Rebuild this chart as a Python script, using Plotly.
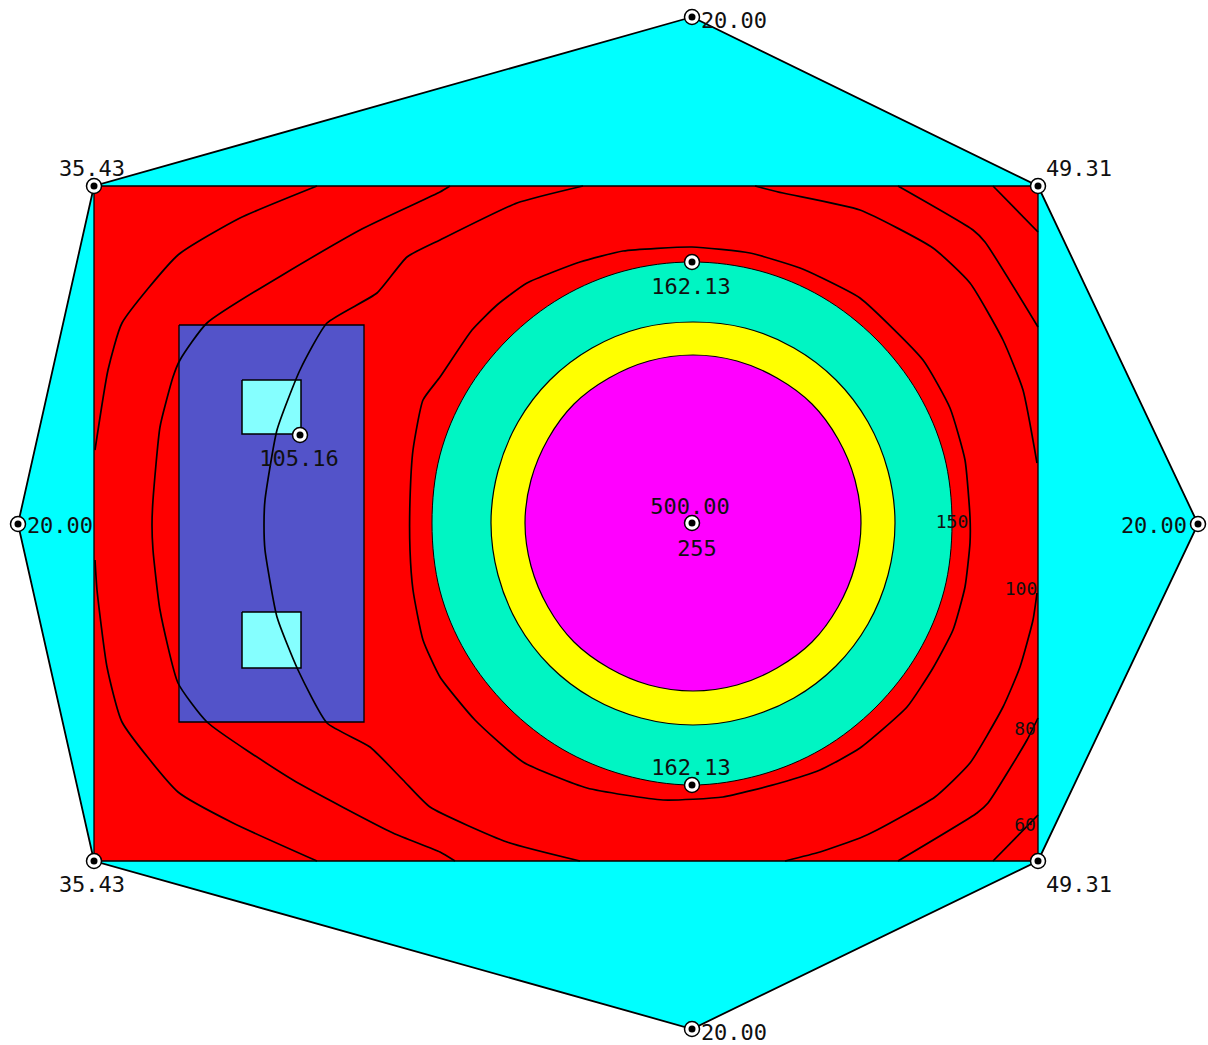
import plotly.graph_objects as go

# Outer octagon
outer_x = [692, 1038, 1198, 1038, 692, 94, 18, 94, 692]
outer_y = [17, 186, 524, 861, 1029, 861, 524, 186, 17]
# Inner rectangle
rect_x = [94, 1038, 1038, 94, 94]
rect_y = [186, 186, 861, 861, 186]
# Column block
block_x = [179, 364, 364, 179, 179]
block_y = [325, 325, 722, 722, 325]
pad1_x = [242, 301, 301, 242, 242]
pad1_y = [380, 380, 434, 434, 380]
pad2_x = [242, 301, 301, 242, 242]
pad2_y = [612, 612, 668, 668, 612]
# Pressure zones
teal_x = [952, 944, 918, 876, 822, 760, 692, 624, 562, 508, 466, 440, 432, 440, 466, 508, 562, 624, 692, 760, 822, 876, 918, 944, 952]
teal_y = [523, 455, 393, 339, 297, 271, 262, 271, 297, 339, 393, 455, 523, 591, 653, 707, 749, 775, 785, 775, 749, 707, 653, 591, 523]
yellow_x = [895, 888, 868, 836, 794, 745, 693, 641, 592, 550, 518, 498, 491, 498, 518, 550, 592, 641, 693, 745, 794, 836, 868, 888, 895]
yellow_y = [523, 471, 422, 380, 348, 328, 322, 328, 348, 380, 422, 471, 523, 575, 624, 666, 698, 718, 725, 718, 698, 666, 624, 575, 523]
magenta_x = [861, 855, 838, 812, 777, 737, 693, 649, 609, 574, 548, 531, 525, 531, 548, 574, 609, 649, 693, 737, 777, 812, 838, 855, 861]
magenta_y = [523, 480, 439, 404, 378, 361, 355, 361, 378, 404, 439, 480, 523, 566, 607, 642, 668, 685, 691, 685, 668, 642, 607, 566, 523]

# Contour lines
c60_top_left_x = [317, 240, 178, 122, 108, 95]
c60_top_left_y = [186, 218, 255, 323, 370, 450]
c60_bot_left_x = [95, 97, 107, 122, 178, 233, 317]
c60_bot_left_y = [560, 590, 667, 722, 792, 823, 861]
c60_top_right_x = [993, 1038]
c60_top_right_y = [186, 232]
c60_bot_right_x = [1038, 993]
c60_bot_right_y = [815, 861]

c80_left_x = [450, 440, 360, 207, 180, 173, 160, 153, 152, 153, 160, 178, 207, 293, 393, 440, 455]
c80_left_y = [186, 192, 230, 323, 360, 377, 427, 500, 525, 550, 610, 683, 722, 780, 833, 852, 861]
c80_top_right_x = [898, 973, 985, 1038]
c80_top_right_y = [186, 230, 242, 327]
c80_bot_right_x = [1038, 1027, 988, 977, 898]
c80_bot_right_y = [718, 740, 803, 813, 861]

c100_top_x = [1037, 1023, 1003, 970, 933, 860, 783, 755]
c100_top_y = [463, 390, 340, 283, 248, 210, 193, 186]
c100_left_x = [583, 517, 440, 407, 377, 327, 300, 277, 265, 264, 265, 277, 298, 327, 370, 403, 430, 507, 580]
c100_left_y = [186, 203, 240, 257, 293, 323, 370, 430, 500, 525, 550, 617, 670, 723, 747, 780, 807, 842, 861]
c100_bot_x = [1037, 1033, 1020, 1003, 970, 935, 877, 860, 820, 785]
c100_bot_y = [593, 620, 667, 707, 763, 797, 830, 838, 852, 861]

c150_x = [692, 623, 580, 527, 497, 472, 440, 423, 413, 410, 410, 413, 423, 440, 475, 523, 587, 663, 723, 780, 820, 860, 907, 933, 953, 965, 970, 970, 965, 950, 923, 860, 820, 800, 750, 692]
c150_y = [247, 251, 262, 283, 305, 330, 377, 400, 450, 500, 550, 590, 640, 677, 720, 762, 788, 800, 797, 783, 770, 748, 707, 668, 630, 587, 543, 517, 460, 408, 360, 298, 277, 268, 253, 247]

contours = [
    (c60_top_left_x, c60_top_left_y), (c60_bot_left_x, c60_bot_left_y),
    (c60_top_right_x, c60_top_right_y), (c60_bot_right_x, c60_bot_right_y),
    (c80_left_x, c80_left_y), (c80_top_right_x, c80_top_right_y), (c80_bot_right_x, c80_bot_right_y),
    (c100_top_x, c100_top_y), (c100_left_x, c100_left_y), (c100_bot_x, c100_bot_y),
    (c150_x, c150_y),
]

# Measurement points
point_x = [692, 1038, 1198, 1038, 692, 94, 18, 94, 692, 692, 692, 300]
point_y = [17, 186, 524, 861, 1029, 861, 524, 186, 262, 785, 523, 435]

# Value labels
label_text = ["20.00", "49.31", "20.00", "49.31", "20.00", "35.43", "20.00", "35.43",
              "162.13", "162.13", "500.00", "255", "105.16"]
label_x = [734, 1079, 1154, 1079, 734, 92, 60, 92, 691, 691, 690, 697, 299]
label_y = [22, 170, 527, 886, 1034, 886, 527, 170, 288, 769, 508, 550, 460]

contour_text = ["150", "100", "80", "60"]
contour_x = [952, 1021, 1025, 1025]
contour_y = [523, 590, 730, 826]

fig = go.Figure()


def poly(x, y, fill, width=1.5, shape="linear"):
    fig.add_trace(go.Scatter(x=x, y=y, mode="lines", fill="toself", fillcolor=fill,
                             line=dict(color="black", width=width, shape=shape),
                             hoverinfo="skip", showlegend=False))


poly(outer_x, outer_y, "#00FFFF", 1.8)
poly(rect_x, rect_y, "#FF0000", 1.3)
poly(teal_x, teal_y, "#00F5C3", 1.0, "spline")
poly(yellow_x, yellow_y, "#FFFF00", 1.2, "spline")
poly(magenta_x, magenta_y, "#FF00FF", 1.2, "spline")
poly(block_x, block_y, "#5353C9", 1.3)
poly(pad1_x, pad1_y, "#85FFFF", 1.5)
poly(pad2_x, pad2_y, "#85FFFF", 1.5)

for cx, cy in contours:
    fig.add_trace(go.Scatter(x=cx, y=cy, mode="lines",
                             line=dict(color="black", width=1.7, shape="spline", smoothing=0.5),
                             hoverinfo="skip", showlegend=False))

fig.add_trace(go.Scatter(x=label_x, y=label_y, text=label_text, mode="text",
                         textposition="middle center",
                         textfont=dict(family="DejaVu Sans Mono", size=22, color="#101010"),
                         hoverinfo="skip", showlegend=False))
fig.add_trace(go.Scatter(x=contour_x, y=contour_y, text=contour_text, mode="text",
                         textposition="middle center",
                         textfont=dict(family="DejaVu Sans Mono", size=18, color="#101010"),
                         hoverinfo="skip", showlegend=False))

fig.add_trace(go.Scatter(x=point_x, y=point_y, mode="markers",
                         marker=dict(size=15, color="white", line=dict(color="black", width=1.5)),
                         hoverinfo="skip", showlegend=False))
fig.add_trace(go.Scatter(x=point_x, y=point_y, mode="markers",
                         marker=dict(size=7, color="black"),
                         hoverinfo="skip", showlegend=False))

fig.update_layout(
    width=1208, height=1045, autosize=False,
    margin=dict(l=0, r=0, t=0, b=0),
    paper_bgcolor="white", plot_bgcolor="white",
    xaxis=dict(range=[0, 1208], visible=False, fixedrange=True),
    yaxis=dict(range=[1045, 0], visible=False, fixedrange=True),
)

fig.write_html("out.html", config=dict(displayModeBar=False),
               post_script="document.body.style.margin='0';")
